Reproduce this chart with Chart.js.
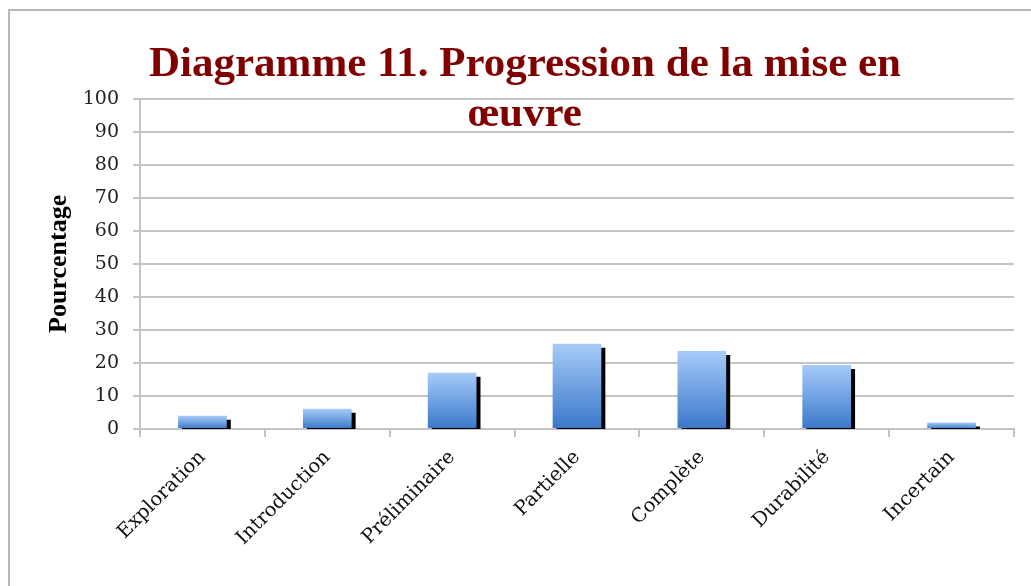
<!DOCTYPE html>
<html lang="fr">
<head>
    <meta charset="UTF-8">
    <title>Diagramme 11. Progression de la mise en œuvre</title>
    <script src="https://cdn.jsdelivr.net/npm/chart.js"></script>
    <style>
        body { margin: 0; background: #fff; overflow: hidden; }
        #frame { position: absolute; left: 8px; top: 9px; width: 1100px; height: 700px;
                 border-left: 2px solid #b8b8b8; border-top: 2px solid #b8b8b8; }
        #box { position: absolute; left: 0; top: 0; width: 1040px; height: 586px; }
    </style>
</head>
<body>
<div id="frame"></div>
<div id="box"><canvas id="chart"></canvas></div>
<script>
const categories = ["Exploration", "Introduction", "Préliminaire", "Partielle", "Complète", "Durabilité", "Incertain"];
const percentages = [4, 6.1, 17, 25.8, 23.6, 19.4, 2];
const titleLines = ["Diagramme 11. Progression de la mise en", "œuvre"];
const yTitle = "Pourcentage";

const gridGray = "#c4c4c4";

// black drop shadow on the right of each bar
const barShadow = {
    id: "barShadow",
    beforeDatasetsDraw(chart) {
        const ctx = chart.ctx;
        ctx.save();
        ctx.shadowColor = "#000";
        ctx.shadowOffsetX = 4;
        ctx.shadowOffsetY = 4;
        ctx.shadowBlur = 0;
    },
    afterDatasetsDraw(chart) {
        chart.ctx.restore();
    }
};

function barGradient(context) {
    const chart = context.chart;
    const area = chart.chartArea;
    if (!area) return "#6a9fe0";
    const y = chart.scales.y;
    const top = y.getPixelForValue(context.raw);
    const base = y.getPixelForValue(0);
    const g = chart.ctx.createLinearGradient(0, top, 0, base);
    g.addColorStop(0, "#a6cbf9");
    g.addColorStop(1, "#3a77c9");
    return g;
}

new Chart(document.getElementById("chart"), {
    type: "bar",
    data: {
        labels: categories,
        datasets: [{
            data: percentages,
            backgroundColor: barGradient,
            borderWidth: 0,
            barPercentage: 0.78,
            categoryPercentage: 0.5
        }]
    },
    plugins: [barShadow],
    options: {
        responsive: true,
        maintainAspectRatio: false,
        animation: false,
        layout: { padding: { left: 36, right: 26, top: 0, bottom: 0 } },
        plugins: {
            legend: { display: false },
            tooltip: { enabled: false },
            title: {
                display: true,
                text: titleLines,
                color: "#800000",
                font: { family: "Liberation Serif", size: 43, weight: "bold", lineHeight: 1.16 },
                padding: { top: 40, bottom: -41 }
            }
        },
        scales: {
            x: {
                grid: { drawOnChartArea: false, color: gridGray, lineWidth: 2, tickLength: 8 },
                border: { color: gridGray, width: 2 },
                ticks: {
                    color: "#111",
                    font: { family: "DejaVu Serif", size: 19.5 },
                    minRotation: 45,
                    maxRotation: 45,
                    padding: 9
                },
                afterFit(scale) { scale.height = 157; }
            },
            y: {
                min: 0,
                max: 100,
                ticks: {
                    stepSize: 10,
                    color: "#222",
                    font: { family: "DejaVu Serif", size: 19 },
                    padding: 14
                },
                grid: { color: gridGray, lineWidth: 2, tickLength: 7 },
                border: { color: gridGray, width: 2 },
                title: {
                    display: true,
                    text: yTitle,
                    color: "#000",
                    font: { family: "Liberation Serif", size: 26, weight: "bold" },
                    padding: { top: 8, bottom: 0 }
                },
                afterFit(scale) { scale.width = 104; }
            }
        }
    }
});
</script>
</body>
</html>
